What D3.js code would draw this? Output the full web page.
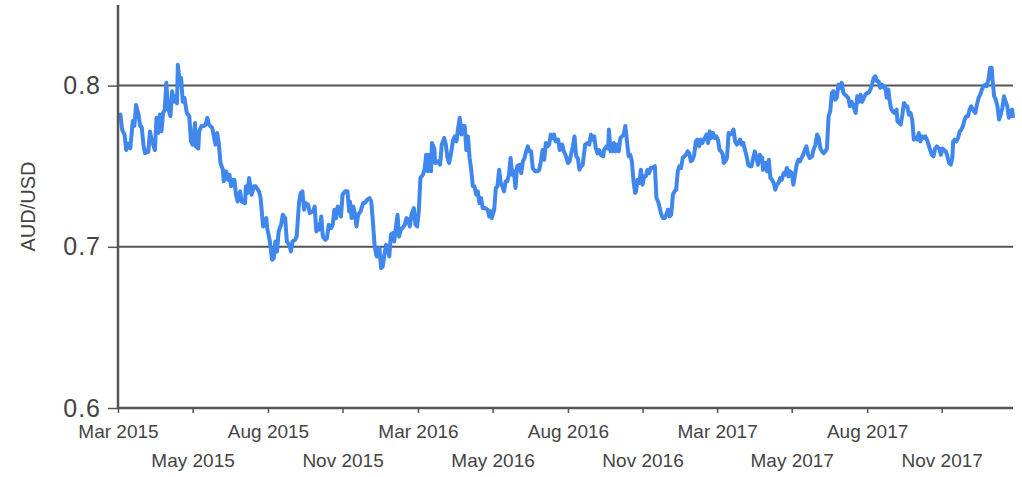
<!DOCTYPE html>
<html lang="en">
<head>
  <meta charset="UTF-8">
  <script src="https://d3js.org/d3.v7.min.js"></script>
  <title>AUD/USD</title>
  <style>
  body {
      margin: 0;
      background: #fff;
  }
  svg {
      font-family: "Liberation Sans", Arial, sans-serif;
  }
  .yAxis .tick text {
      font-size: 25px;
      fill: #444;
      letter-spacing: 1px;
  }
  .xAxis .tick text {
      font-size: 19px;
      fill: #444;
  }
  .axisTitle {
      font-size: 20px;
      fill: #444;
  }
  </style>
</head>
<body>
<svg id="chart" width="1022" height="477"></svg>

<script>

  // data: days after 1 Mar 2015 and the AUD/USD rate
  const startDate = new Date(2015, 2, 1);
  const lastDay = 1092;

  const dayOffsets = [
    1, 3, 5, 8, 10, 13, 15, 18, 20, 22, 25, 27, 29, 31, 33, 37, 39, 41, 45, 47,
    49, 51, 53, 55, 57, 59, 61, 64, 66, 68, 70, 72, 73, 75, 77, 79, 81, 84, 87, 89,
    91, 94, 95, 98, 99, 102, 105, 107, 109, 111, 115, 117, 119, 121, 123, 125, 128, 129, 132, 134,
    136, 138, 140, 142, 144, 146, 149, 151, 155, 156, 158, 160, 163, 166, 168, 172, 174,
    177, 181, 182, 185, 188, 190, 192, 194, 196, 199, 201, 204, 206, 209, 211, 213, 216, 218, 221, 223,
    225, 227, 229, 232, 234, 238, 240, 242, 244, 246, 248, 250, 253, 255, 257, 260, 262, 264, 266, 268,
    270, 272, 274, 277, 280, 282, 283, 285, 287, 289, 291, 293, 296, 299, 301, 304, 307, 309, 311, 313,
    315, 316, 319, 321, 323, 325, 327, 329, 331, 333, 335, 337, 339, 341, 343, 345, 347, 350, 352, 354,
    356, 358, 361, 363, 365, 367, 369, 372, 374, 376, 378, 380, 382, 383, 386, 387, 390, 393, 395, 398,
    400, 402, 404, 406, 409, 411, 413, 415, 417, 419, 421, 423, 425, 427, 429, 431, 433, 435, 437, 439,
    441, 443, 445, 448, 451, 453, 455, 456, 459, 461, 463, 465, 467, 469, 471, 473, 475, 477, 479, 481,
    483, 485, 487, 490, 492, 494, 496, 498, 500, 502, 504, 506, 509, 512, 514, 516, 518, 520, 522, 524,
    526, 528, 530, 532, 534,
    537, 539, 542, 544, 546, 549, 551, 553, 555, 557, 559, 561, 563, 565, 567, 570, 573, 575, 577, 579,
    581, 583, 585, 587, 589, 592, 593, 596, 598, 599, 601, 603, 605, 607, 609, 611, 613, 615, 617, 619,
    621, 623, 625, 627, 629, 631, 632, 634, 636, 638, 640, 642, 644, 646, 648, 650, 652, 655, 657, 659,
    661, 663, 665, 667, 669, 671, 673, 675, 677, 679, 681, 683, 685, 687, 689, 691, 693, 695, 697, 699,
    701, 703, 705, 707, 709, 711, 713, 716,
    718, 720, 722, 724, 726, 728, 730, 732, 734, 736, 738, 739, 741, 743, 745, 747, 749, 751, 753, 755,
    757, 759, 761, 763, 765, 767, 769, 771, 773, 775, 777, 779, 781, 783, 786, 787, 790, 792, 794, 796,
    798, 800, 802, 804, 806, 808, 810, 812, 814, 816, 818, 820, 822, 824, 826, 828, 830, 832, 834, 836,
    838, 840, 842, 844, 847, 848, 851, 853, 855, 857, 859, 861, 863, 865, 867, 869, 871, 873, 875, 877,
    879, 881, 883, 885, 887, 889, 891, 893, 895,
    898, 900, 902, 904, 906, 908, 910, 912, 914, 916, 918, 920, 922, 924, 926, 928, 930, 932, 935, 936,
    938, 940, 941, 943, 945, 947, 950, 951, 953, 955, 957, 959, 961, 963, 965, 967, 969, 971, 973, 975,
    977, 979, 981, 983, 985, 987, 989, 991, 993, 995, 997, 999, 1002, 1004, 1006, 1008, 1010, 1012, 1014, 1016,
    1018, 1019, 1021, 1023, 1025, 1027, 1029, 1031, 1033, 1035, 1037, 1039, 1041, 1043, 1046, 1048, 1050, 1052, 1054, 1056,
    1058, 1060, 1062, 1064, 1066, 1067, 1069, 1071, 1073, 1075, 1077, 1079, 1081, 1083, 1085, 1087, 1089, 1091, 1092
  ];

  const rates = [
    0.781, 0.782, 0.7727, 0.7696, 0.760, 0.764, 0.761, 0.778, 0.775, 0.788, 0.782, 0.775, 0.774, 0.7634, 0.758, 0.759, 0.7716, 0.7665, 0.760, 0.780,
    0.7706, 0.782, 0.7716, 0.783, 0.785, 0.8017, 0.786, 0.781, 0.7965, 0.790, 0.7934, 0.789, 0.813, 0.8037, 0.8048, 0.790, 0.7924, 0.783, 0.781, 0.7654,
    0.7634, 0.7768, 0.7623, 0.761, 0.7716, 0.775, 0.775, 0.7758, 0.780, 0.7758, 0.7737, 0.7685, 0.7634, 0.7706, 0.7644, 0.752, 0.7478, 0.7406, 0.7468, 0.7416,
    0.7447, 0.7375, 0.7416, 0.7416, 0.7323, 0.7281, 0.7344, 0.7281, 0.7271, 0.7375, 0.7334, 0.7427, 0.7323, 0.7375, 0.7375, 0.7344, 0.7302,
    0.7126, 0.7178, 0.7116, 0.7043, 0.6919, 0.693, 0.7033, 0.6971, 0.7095, 0.7137, 0.7199, 0.7178, 0.7033, 0.7012, 0.6971, 0.7033, 0.7043, 0.7064, 0.7281, 0.7334,
    0.7344, 0.723, 0.7271, 0.7261, 0.7209, 0.722, 0.725, 0.7095, 0.7137, 0.7106, 0.7188, 0.7064, 0.7043, 0.7054, 0.7137, 0.7116, 0.7137, 0.723, 0.7178, 0.725,
    0.723, 0.7188, 0.7323, 0.7344, 0.7344, 0.722, 0.7281, 0.7178, 0.725, 0.7209, 0.7126, 0.7199, 0.722, 0.7271, 0.7271, 0.7292, 0.7302, 0.7281, 0.7157, 0.7012,
    0.695, 0.694, 0.6992, 0.6868, 0.6878, 0.695, 0.7012, 0.700, 0.694, 0.7075, 0.7085, 0.7033, 0.7116, 0.7199, 0.7064, 0.7106, 0.7116, 0.7137, 0.7178, 0.7168,
    0.7126, 0.7199, 0.724, 0.7137, 0.7126, 0.722, 0.7427, 0.7447, 0.7478, 0.7571, 0.7468, 0.7571, 0.7468, 0.7644, 0.761, 0.752, 0.753, 0.7509, 0.7634, 0.7675,
    0.7634, 0.7551, 0.752, 0.7571, 0.7665, 0.7685, 0.7654, 0.7737, 0.780, 0.7696, 0.775, 0.775, 0.760, 0.7685, 0.7551, 0.7478, 0.7375, 0.7375, 0.7323, 0.7344,
    0.7271, 0.7302, 0.724, 0.724, 0.723, 0.7188, 0.722, 0.7178, 0.723, 0.7365, 0.7375, 0.7478, 0.7396, 0.7375, 0.7344, 0.7406, 0.7406, 0.7447, 0.7551, 0.7447,
    0.7468, 0.7365, 0.75, 0.7509, 0.7457, 0.753, 0.7551, 0.7592, 0.7623, 0.7592, 0.7592, 0.7489, 0.7468, 0.7468, 0.7478, 0.753, 0.760, 0.754, 0.7644, 0.7623,
    0.7634, 0.7696, 0.7675, 0.7696, 0.7654,
    0.7665, 0.760, 0.7634, 0.7592, 0.7571, 0.752, 0.753, 0.758, 0.7623, 0.7685, 0.7561, 0.7551, 0.7478, 0.75, 0.7509, 0.7634, 0.7644, 0.7634, 0.7696, 0.7665,
    0.7685, 0.761, 0.758, 0.760, 0.7571, 0.7561, 0.760, 0.7623, 0.761, 0.7727, 0.7592, 0.7592, 0.7644, 0.7592, 0.7634, 0.7592, 0.7675, 0.7685, 0.7696, 0.775,
    0.7654, 0.7561, 0.7571, 0.753, 0.7406, 0.7334, 0.7344, 0.7416, 0.7396, 0.7478, 0.7385, 0.7437, 0.7437, 0.7478, 0.7457, 0.7489, 0.7489, 0.75, 0.7302, 0.7281,
    0.724, 0.7199, 0.7178, 0.7178, 0.7199, 0.723, 0.7188, 0.7199, 0.7323, 0.7344, 0.7354, 0.7468, 0.75, 0.7489, 0.7551, 0.7561, 0.7571, 0.7592, 0.758, 0.753,
    0.754, 0.7571, 0.7654, 0.7665, 0.7623, 0.7665, 0.7644, 0.7675,
    0.7696, 0.7644, 0.7716, 0.7675, 0.7706, 0.7675, 0.7685, 0.7665, 0.760, 0.7592, 0.7571, 0.752, 0.753, 0.7551, 0.7706, 0.7696, 0.7706, 0.7727, 0.7654, 0.7634,
    0.7644, 0.7665, 0.7634, 0.7644, 0.760, 0.7561, 0.7509, 0.75, 0.75, 0.7551, 0.7592, 0.7551, 0.7509, 0.7571, 0.7551, 0.7478, 0.752, 0.7468, 0.754, 0.7427,
    0.7416, 0.7396, 0.7354, 0.7385, 0.7396, 0.7427, 0.7416, 0.7457, 0.7447, 0.7489, 0.7437, 0.7468, 0.7457, 0.7385, 0.7447, 0.7509, 0.754, 0.753, 0.7551, 0.7571,
    0.760, 0.7623, 0.7571, 0.7551, 0.7561, 0.7592, 0.7634, 0.7696, 0.7675, 0.761, 0.7592, 0.758, 0.7592, 0.761, 0.781, 0.7841, 0.7955, 0.7965, 0.7913, 0.7924,
    0.8006, 0.7986, 0.8017, 0.7955, 0.7944, 0.7934, 0.7924, 0.7872, 0.790,
    0.7862, 0.783, 0.7934, 0.790, 0.7944, 0.790, 0.7924, 0.7944, 0.7955, 0.7955, 0.7975, 0.8006, 0.8048, 0.8058, 0.8027, 0.8027, 0.7986, 0.8006, 0.7986, 0.7996,
    0.7924, 0.7975, 0.7924, 0.7862, 0.7841, 0.783, 0.7851, 0.7778, 0.7768, 0.7758, 0.782, 0.7892, 0.7872, 0.7872, 0.782, 0.783, 0.7789, 0.7665, 0.7675, 0.7665,
    0.7706, 0.7654, 0.7685, 0.7675, 0.7685, 0.7665, 0.7634, 0.760, 0.7571, 0.7561, 0.761, 0.7623, 0.761, 0.7571, 0.761, 0.760, 0.7592, 0.7561, 0.752, 0.7509,
    0.7551, 0.7654, 0.7665, 0.7654, 0.7675, 0.7716, 0.7727, 0.775, 0.7789, 0.781, 0.781, 0.7851, 0.7872, 0.7851, 0.783, 0.7882, 0.7924, 0.7944, 0.7975, 0.7996,
    0.8006, 0.7996, 0.8037, 0.811, 0.811, 0.8037, 0.7934, 0.7913, 0.7872, 0.7789, 0.782, 0.7862, 0.7934, 0.790, 0.7872, 0.780, 0.7841, 0.7851, 0.780
  ];

  const yTicks = [0.6, 0.7, 0.8];
  const gridValues = [0.7, 0.8];
  const xTickDates = ["2015-03-01", "2015-05-31", "2015-08-31", "2015-11-30",
                      "2016-03-01", "2016-05-31", "2016-08-31", "2016-11-30",
                      "2017-03-01", "2017-05-31", "2017-08-31", "2017-11-30"];
  const xTickLabels = ["Mar 2015", "May 2015", "Aug 2015", "Nov 2015",
                       "Mar 2016", "May 2016", "Aug 2016", "Nov 2016",
                       "Mar 2017", "May 2017", "Aug 2017", "Nov 2017"];

  //set up chart area
  const svg = d3.select("svg#chart");
  const width = +svg.attr("width");
  const height = +svg.attr("height");
  const margin = {top: 5, right: 9, bottom: 69, left: 118};
  const chartWidth = width - margin.left - margin.right;
  const chartHeight = height - margin.top - margin.bottom;

  const parseDate = d3.timeParse("%Y-%m-%d");
  const data = dayOffsets.map((d, i) => ({date: d3.timeDay.offset(startDate, d), rate: rates[i]}));
  const tickDates = xTickDates.map(parseDate);

  const xScale = d3.scaleTime()
      .domain([startDate, d3.timeDay.offset(startDate, lastDay)])
      .range([0, chartWidth]);
  const yScale = d3.scaleLinear()
      .domain([0.6, 0.85])
      .range([chartHeight, 0]);

  let chartArea = svg.append("g")
      .attr("transform", `translate(${margin.left},${margin.top})`);

  // horizontal gridlines
  chartArea.selectAll("line.grid")
      .data(gridValues)
      .join("line")
      .attr("class", "grid")
      .attr("x1", 0)
      .attr("x2", chartWidth)
      .attr("y1", d => yScale(d))
      .attr("y2", d => yScale(d))
      .attr("stroke", "#555")
      .attr("stroke-width", 2);

  // the rate line
  const line = d3.line()
      .x(d => xScale(d.date))
      .y(d => yScale(d.rate));

  chartArea.append("path")
      .datum(data)
      .attr("fill", "none")
      .attr("stroke", "#3f87ec")
      .attr("stroke-width", 4)
      .attr("stroke-linejoin", "round")
      .attr("d", line);

  // y axis
  const yAxis = d3.axisLeft(yScale)
      .tickValues(yTicks)
      .tickSize(10)
      .tickPadding(7)
      .tickFormat(d3.format(".1f"));
  const yAxisG = chartArea.append("g")
      .attr("class", "yAxis")
      .call(yAxis);
  yAxisG.select(".domain").remove();
  yAxisG.selectAll(".tick line").attr("stroke", "#555").attr("stroke-width", 1.5);
  yAxisG.append("line")
      .attr("x1", 0).attr("x2", 0)
      .attr("y1", 0).attr("y2", chartHeight + 1)
      .attr("stroke", "#555")
      .attr("stroke-width", 2.5);

  // x axis, labels alternate between two rows
  const xAxis = d3.axisBottom(xScale)
      .tickValues(tickDates)
      .tickSize(5)
      .tickPadding(12)
      .tickFormat((d, i) => xTickLabels[i]);
  const xAxisG = chartArea.append("g")
      .attr("class", "xAxis")
      .attr("transform", `translate(0,${chartHeight})`)
      .call(xAxis);
  xAxisG.select(".domain").remove();
  xAxisG.selectAll(".tick line").attr("stroke", "#555").attr("stroke-width", 1.5);
  xAxisG.selectAll(".tick text")
      .attr("y", (d, i) => i % 2 === 0 ? 17 : 46)
      .attr("dy", "0.71em");
  xAxisG.append("line")
      .attr("x1", -1).attr("x2", chartWidth)
      .attr("y1", 0).attr("y2", 0)
      .attr("stroke", "#555")
      .attr("stroke-width", 2.5);

  // axis title
  svg.append("text")
      .attr("class", "axisTitle")
      .attr("transform", `translate(35,${margin.top + yScale(0.725)}) rotate(-90)`)
      .attr("text-anchor", "middle")
      .text("AUD/USD");

</script>
</body>
</html>
